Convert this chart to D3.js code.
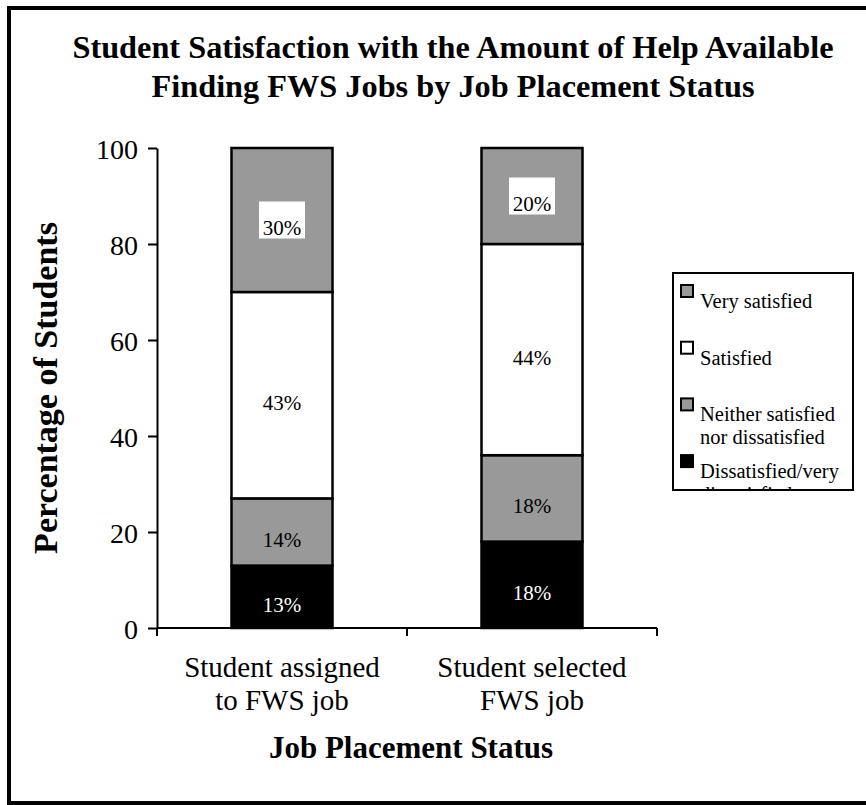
<!DOCTYPE html>
<html>
<head>
<meta charset="utf-8">
<script src="https://cdn.jsdelivr.net/npm/d3@7"></script>
<style>
  html, body { margin: 0; padding: 0; background: #fff; }
</style>
</head>
<body>
<div id="chart"></div>
<script>
'use strict';

// chart data
var categories = ['assigned', 'selected'];
var categoryLabels = [['Student assigned', 'to FWS job'], ['Student selected', 'FWS job']];
var seriesNames = ['Dissatisfied/very dissatisfied', 'Neither satisfied nor dissatisfied', 'Satisfied', 'Very satisfied'];
var dissatisfied = [13, 18];
var neither = [14, 18];
var satisfied = [43, 44];
var verySatisfied = [30, 20];
var yTicks = [0, 20, 40, 60, 80, 100];
var legendLines = [['Very satisfied'], ['Satisfied'], ['Neither satisfied', 'nor dissatisfied'], ['Dissatisfied/very', 'dissatisfied']];

var FONT = 'Liberation Serif';
var seriesColors = ['#000000', '#999999', '#ffffff', '#999999'];
var labelColors = ['#ffffff', '#000000', '#000000', '#000000'];

var width = 866, height = 805;
var plot = { left: 157, right: 657, top: 148, bottom: 628 };

var svg = d3.select('#chart').append('svg')
  .attr('width', width)
  .attr('height', height)
  .attr('font-family', FONT);

svg.append('rect').attr('width', width).attr('height', height).attr('fill', '#fff');

// outer frame
svg.append('rect')
  .attr('x', 9).attr('y', 8)
  .attr('width', 870).attr('height', 795)
  .attr('fill', 'none').attr('stroke', '#000').attr('stroke-width', 4);

// title
var title = svg.append('text')
  .attr('font-family', FONT)
  .attr('text-anchor', 'middle')
  .attr('font-size', 32.3)
  .attr('font-weight', 'bold');
title.append('tspan').attr('x', 453).attr('y', 58).text('Student Satisfaction with the Amount of Help Available');
title.append('tspan').attr('x', 453).attr('y', 97).text('Finding FWS Jobs by Job Placement Status');

var x = d3.scaleBand().domain(categories).range([plot.left, plot.right]).padding(0);
var y = d3.scaleLinear().domain([0, 100]).range([plot.bottom, plot.top]);
var barWidth = x.bandwidth() * 0.404;

// stack the series
var table = categories.map(function(c, i) {
  return { cat: c, s0: dissatisfied[i], s1: neither[i], s2: satisfied[i], s3: verySatisfied[i] };
});
var stacked = d3.stack().keys(['s0', 's1', 's2', 's3'])(table);

var bars = svg.append('g');
stacked.forEach(function(layer, k) {
  bars.selectAll('rect.s' + k)
    .data(layer)
    .enter().append('rect')
    .attr('class', 's' + k)
    .attr('x', function(d) { return x(d.data.cat) + (x.bandwidth() - barWidth) / 2; })
    .attr('y', function(d) { return y(d[1]); })
    .attr('width', barWidth)
    .attr('height', function(d) { return y(d[0]) - y(d[1]); })
    .attr('fill', seriesColors[k])
    .attr('stroke', '#000')
    .attr('stroke-width', 2.5);
});

// value labels
stacked.forEach(function(layer, k) {
  layer.forEach(function(d) {
    var cx = x(d.data.cat) + x.bandwidth() / 2;
    var cy = (y(d[0]) + y(d[1])) / 2;
    if (k === 3) {
      svg.append('rect')
        .attr('x', cx - 23).attr('y', cy - 18.5)
        .attr('width', 46).attr('height', 37)
        .attr('fill', '#fff');
    }
    svg.append('text')
      .attr('font-family', FONT)
      .attr('x', cx)
      .attr('y', cy + 15)
      .attr('text-anchor', 'middle')
      .attr('font-size', 21)
      .attr('fill', labelColors[k])
      .text((d[1] - d[0]) + '%');
  });
});

// y axis
var yAxis = svg.append('g')
  .attr('transform', 'translate(' + plot.left + ',0)')
  .call(d3.axisLeft(y).tickValues(yTicks).tickSize(9).tickSizeOuter(0).tickPadding(10));
yAxis.attr('font-family', FONT);
yAxis.select('.domain').attr('stroke', '#000').attr('stroke-width', 2);
yAxis.selectAll('.tick line').attr('stroke', '#000').attr('stroke-width', 2);
yAxis.selectAll('.tick text')
  .attr('font-size', 28)
  .attr('font-family', FONT)
  .attr('fill', '#000')
  .attr('dy', '0.38em');

// x axis (ticks sit at the band edges)
var xAxis = svg.append('g');
xAxis.append('line')
  .attr('x1', plot.left).attr('x2', plot.right)
  .attr('y1', plot.bottom).attr('y2', plot.bottom)
  .attr('stroke', '#000').attr('stroke-width', 2);
var edges = [x.range()[0]].concat(categories.map(function(c) { return x(c) + x.bandwidth(); }));
xAxis.selectAll('line.tick')
  .data(edges)
  .enter().append('line')
  .attr('class', 'tick')
  .attr('x1', function(d) { return d; }).attr('x2', function(d) { return d; })
  .attr('y1', plot.bottom).attr('y2', plot.bottom + 8)
  .attr('stroke', '#000').attr('stroke-width', 2);

categories.forEach(function(c, i) {
  var t = xAxis.append('text')
    .attr('font-family', FONT)
    .attr('text-anchor', 'middle')
    .attr('font-size', 29);
  categoryLabels[i].forEach(function(line, j) {
    t.append('tspan')
      .attr('x', x(c) + x.bandwidth() / 2)
      .attr('y', 677 + j * 33)
      .text(line);
  });
});

// axis titles
svg.append('text')
  .attr('font-family', FONT)
  .attr('x', 411).attr('y', 758)
  .attr('text-anchor', 'middle')
  .attr('font-size', 31)
  .attr('font-weight', 'bold')
  .text('Job Placement Status');

svg.append('text')
  .attr('font-family', FONT)
  .attr('transform', 'translate(57,388) rotate(-90)')
  .attr('text-anchor', 'middle')
  .attr('font-size', 34)
  .attr('font-weight', 'bold')
  .text('Percentage of Students');

// legend
var legendBox = { x: 673, y: 273, w: 180, h: 217 };
svg.append('clipPath').attr('id', 'legend-clip')
  .append('rect')
  .attr('x', legendBox.x).attr('y', legendBox.y)
  .attr('width', legendBox.w).attr('height', legendBox.h);

var legend = svg.append('g').attr('clip-path', 'url(#legend-clip)');
legend.append('rect')
  .attr('x', legendBox.x).attr('y', legendBox.y)
  .attr('width', legendBox.w).attr('height', legendBox.h)
  .attr('fill', '#fff');

// legend lists the series top-down
var legendOrder = [3, 2, 1, 0];
legendOrder.forEach(function(k, i) {
  var top = 285 + i * 56.7;
  legend.append('rect')
    .attr('x', 681).attr('y', top)
    .attr('width', 12).attr('height', 12)
    .attr('fill', seriesColors[k])
    .attr('stroke', '#000').attr('stroke-width', 2);
  var t = legend.append('text').attr('font-family', FONT).attr('font-size', 20.5);
  legendLines[i].forEach(function(line, j) {
    t.append('tspan').attr('x', 700).attr('y', top + 23 + j * 23).text(line);
  });
});

svg.append('rect')
  .attr('x', legendBox.x).attr('y', legendBox.y)
  .attr('width', legendBox.w).attr('height', legendBox.h)
  .attr('fill', 'none').attr('stroke', '#000').attr('stroke-width', 2);
</script>
</body>
</html>
